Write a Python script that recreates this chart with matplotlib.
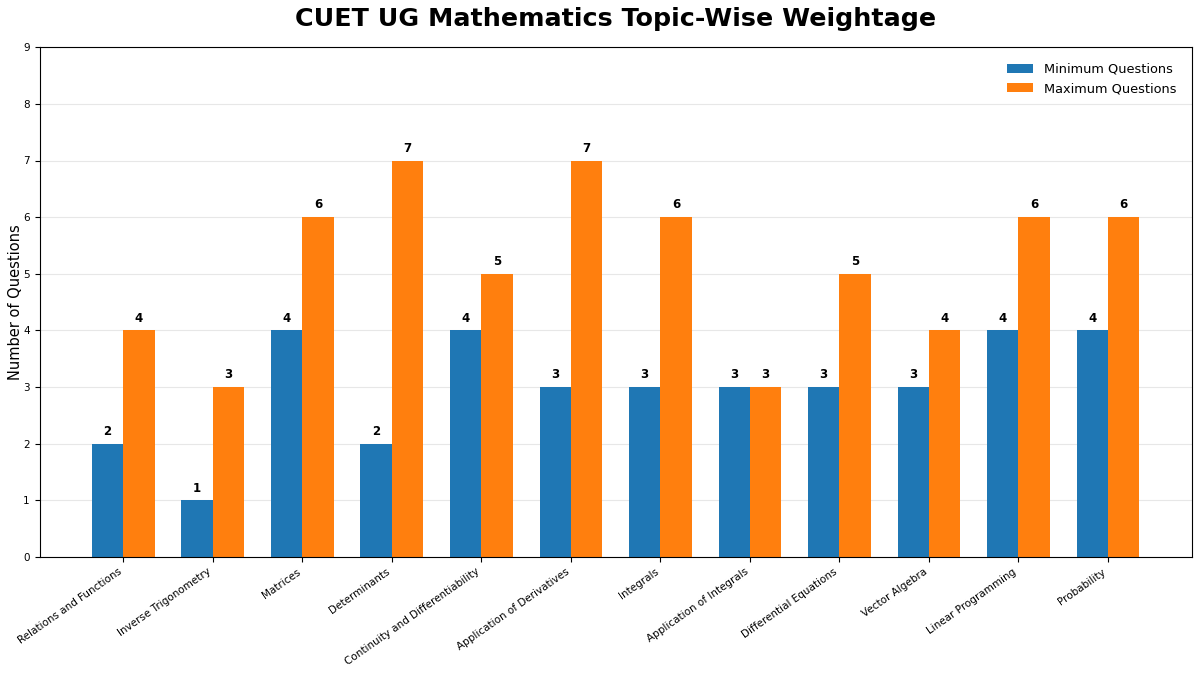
import numpy as np
import matplotlib.pyplot as plt

topics = ['Relations and Functions', 'Inverse Trigonometry', 'Matrices', 'Determinants',
          'Continuity and Differentiability', 'Application of Derivatives', 'Integrals',
          'Application of Integrals', 'Differential Equations', 'Vector Algebra',
          'Linear Programming', 'Probability']
min_q = [2, 1, 4, 2, 4, 3, 3, 3, 3, 3, 4, 4]
max_q = [4, 3, 6, 7, 5, 7, 6, 3, 5, 4, 6, 6]

x = np.arange(len(topics))
width = 0.35

fig, ax = plt.subplots(figsize=(12, 6.75), dpi=100)
b1 = ax.bar(x - width / 2, min_q, width, label='Minimum Questions', color='#1f77b4')
b2 = ax.bar(x + width / 2, max_q, width, label='Maximum Questions', color='#ff7f0e')

for bars in (b1, b2):
    for bar in bars:
        h = bar.get_height()
        ax.text(bar.get_x() + bar.get_width() / 2, h + 0.1, f'{int(h)}',
                ha='center', va='bottom', fontsize=8.5, fontweight='bold')

ax.set_title('CUET UG Mathematics Topic-Wise Weightage', fontsize=18.3, fontweight='bold', pad=15)
ax.set_ylabel('Number of Questions', fontsize=10.5)
ax.yaxis.set_label_coords(-0.0148, 0.5)
ax.set_xticks(x)
ax.set_xticklabels(topics, rotation=35, ha='right', fontsize=7.5)
ax.tick_params(axis='y', labelsize=7.5)
ax.set_ylim(0, 9)
ax.yaxis.grid(True, alpha=0.3)
ax.set_axisbelow(True)
ax.legend(frameon=False, fontsize=9.3, loc='upper right', borderaxespad=0.8)

plt.subplots_adjust(left=0.033, right=0.993, top=0.93, bottom=0.175)
plt.savefig('out.png', dpi=100)
